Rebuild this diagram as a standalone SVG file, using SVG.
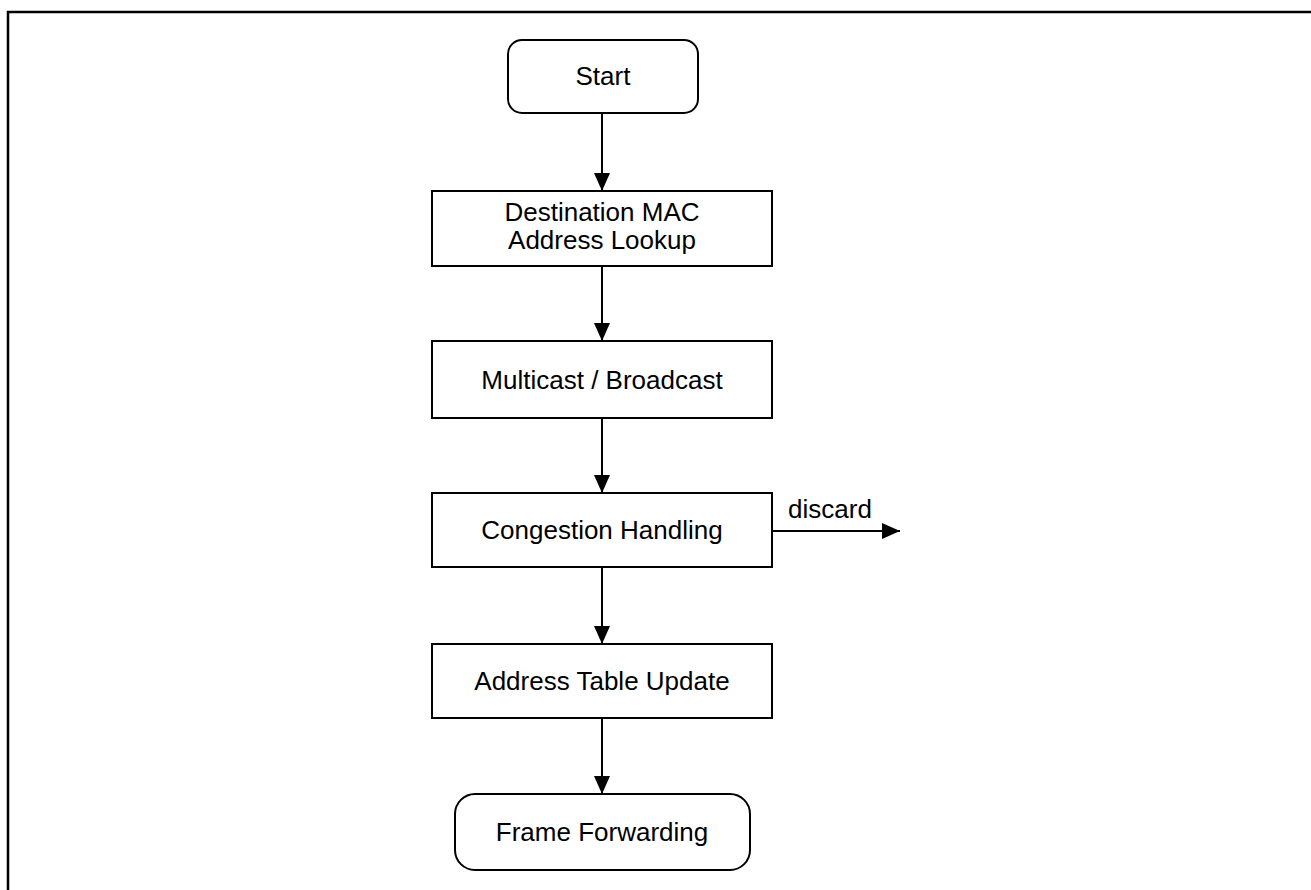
<svg xmlns="http://www.w3.org/2000/svg" width="1311" height="890" viewBox="0 0 1311 890">
<style>
.box{fill:#fff;stroke:#000;stroke-width:2}
.t{font-family:"Liberation Sans",Arial,sans-serif;font-size:26px;fill:#000;text-anchor:middle}
.c{stroke:#000;stroke-width:2;fill:none;marker-end:url(#ah)}
</style>
<defs>
<marker id="ah" markerUnits="userSpaceOnUse" markerWidth="18" markerHeight="18" viewBox="0 0 18 18" refX="18" refY="9" orient="auto">
<path d="M0,1 L18,9 L0,17 Z" fill="#000"/>
</marker>
</defs>
<rect x="8" y="12" width="1320" height="900" fill="none" stroke="#000" stroke-width="2.5"/>
<g id="connectors">
<line class="c" x1="602" y1="113" x2="602" y2="191"/>
<line class="c" x1="602" y1="266" x2="602" y2="341"/>
<line class="c" x1="602" y1="418" x2="602" y2="493"/>
<line class="c" x1="602" y1="567" x2="602" y2="644"/>
<line class="c" x1="602" y1="718" x2="602" y2="794"/>
<line class="c" x1="772" y1="531" x2="900" y2="531"/>
<text class="t" x="830" y="518">discard</text>
</g>
<g id="start">
<rect class="box" x="508" y="40" width="190" height="73" rx="14"/>
<text class="t" x="603" y="85">Start</text>
</g>
<g id="lookup">
<rect class="box" x="432" y="191" width="340" height="75"/>
<text class="t" x="602" y="221">Destination MAC</text>
<text class="t" x="602" y="249">Address Lookup</text>
</g>
<g id="multicast">
<rect class="box" x="432" y="341" width="340" height="77"/>
<text class="t" x="602" y="389">Multicast / Broadcast</text>
</g>
<g id="congestion">
<rect class="box" x="432" y="493" width="340" height="74"/>
<text class="t" x="602" y="539">Congestion Handling</text>
</g>
<g id="update">
<rect class="box" x="432" y="644" width="340" height="74"/>
<text class="t" x="602" y="690">Address Table Update</text>
</g>
<g id="forwarding">
<rect class="box" x="455" y="794" width="295" height="76" rx="20"/>
<text class="t" x="602" y="841">Frame Forwarding</text>
</g>
</svg>
